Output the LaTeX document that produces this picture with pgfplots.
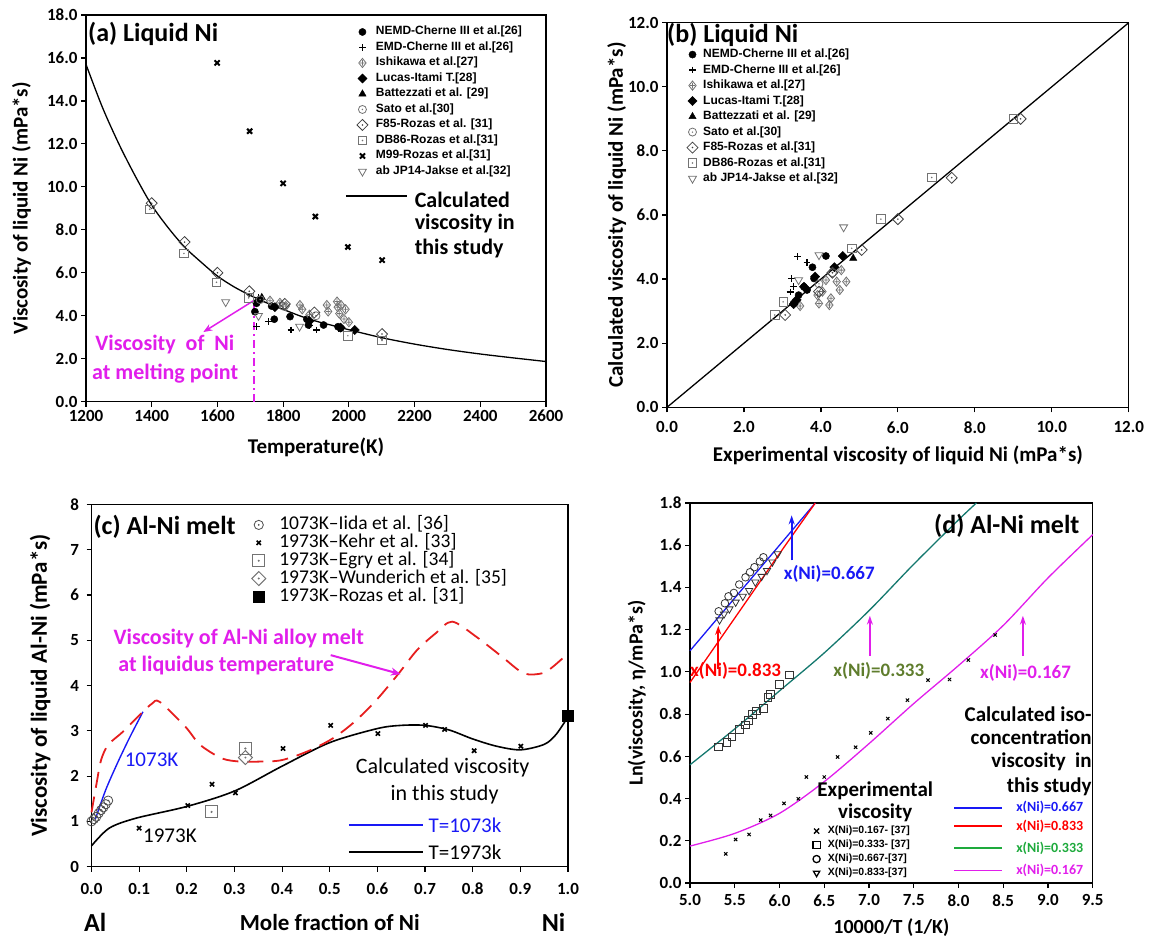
\documentclass[border=0pt]{standalone}
\usepackage{fontspec}
\setmainfont{Carlito}
\newfontfamily\arial{Liberation Sans}
\usepackage{pgfplots}
\pgfplotsset{compat=1.18}
\usetikzlibrary{arrows.meta}

\definecolor{mag}{RGB}{225,30,235}
\definecolor{dred}{RGB}{230,30,30}
\definecolor{bblue}{RGB}{25,25,245}
\definecolor{teal2}{RGB}{20,120,110}
\definecolor{olive2}{RGB}{95,125,45}
\definecolor{lgreen}{RGB}{30,170,60}
\definecolor{gry}{RGB}{115,115,115}

\pgfdeclareplotmark{odot}{%
 \pgfpathcircle{\pgfpointorigin}{\pgfplotmarksize}\pgfusepathqstroke
 \pgfpathcircle{\pgfpointorigin}{0.2\pgfplotmarksize}\pgfusepathqfill}
\pgfdeclareplotmark{sqdot}{%
 \pgfpathrectangle{\pgfpoint{-\pgfplotmarksize}{-\pgfplotmarksize}}{\pgfpoint{2\pgfplotmarksize}{2\pgfplotmarksize}}\pgfusepathqstroke
 \pgfpathcircle{\pgfpointorigin}{0.2\pgfplotmarksize}\pgfusepathqfill}
\pgfdeclareplotmark{rdiam*}{%
 \pgfpathmoveto{\pgfpoint{0pt}{\pgfplotmarksize}}\pgfpathlineto{\pgfpoint{\pgfplotmarksize}{0pt}}%
 \pgfpathlineto{\pgfpoint{0pt}{-\pgfplotmarksize}}\pgfpathlineto{\pgfpoint{-\pgfplotmarksize}{0pt}}\pgfpathclose
 \pgfusepathqfillstroke}
\pgfdeclareplotmark{rdiamdot}{%
 \pgfpathmoveto{\pgfpoint{0pt}{\pgfplotmarksize}}\pgfpathlineto{\pgfpoint{\pgfplotmarksize}{0pt}}%
 \pgfpathlineto{\pgfpoint{0pt}{-\pgfplotmarksize}}\pgfpathlineto{\pgfpoint{-\pgfplotmarksize}{0pt}}\pgfpathclose
 \pgfusepathqstroke
 \pgfpathcircle{\pgfpointorigin}{0.16\pgfplotmarksize}\pgfusepathqfill}
\pgfdeclareplotmark{rdiamplus}{%
 \pgfpathmoveto{\pgfpoint{0pt}{\pgfplotmarksize}}\pgfpathlineto{\pgfpoint{0.8\pgfplotmarksize}{0pt}}%
 \pgfpathlineto{\pgfpoint{0pt}{-\pgfplotmarksize}}\pgfpathlineto{\pgfpoint{-0.8\pgfplotmarksize}{0pt}}\pgfpathclose
 \pgfpathmoveto{\pgfpoint{-0.5\pgfplotmarksize}{0pt}}\pgfpathlineto{\pgfpoint{0.5\pgfplotmarksize}{0pt}}%
 \pgfpathmoveto{\pgfpoint{0pt}{-0.6\pgfplotmarksize}}\pgfpathlineto{\pgfpoint{0pt}{0.6\pgfplotmarksize}}%
 \pgfusepathqstroke}

\newcommand\fs[1]{\fontsize{#1}{#1}\selectfont}
\tikzset{tx/.style={inner sep=0pt}}

\pgfplotsset{
 base/.style={scale only axis, anchor=south west, clip=false,
   axis line style={line width=1.3pt},
   every tick/.style={black, line width=1.2pt},
   major tick length=5pt, tick align=outside,
   xtick pos=left, ytick pos=left,
   tick label style={font=\bfseries\fs{17}},
   /pgf/number format/assume math mode=true,
   legend cell align=left},
 oned/.style={/pgf/number format/.cd,fixed,fixed zerofill,precision=1},
 ptleg/.style={legend image code/.code={\draw[mark repeat=2,mark phase=2,##1] plot coordinates {(0pt,0pt)(#1,0pt)(2*#1,0pt)};}},
}

\begin{document}
\begin{tikzpicture}
\path[use as bounding box] (0,0) rectangle (1155pt,940pt);

% ---------------- (a) ----------------
\begin{axis}[base, at={(86pt,538.3pt)}, width=460pt, height=386.7pt,
 xmin=1200,xmax=2600,ymin=0,ymax=18,
 xtick={1200,1400,...,2600}, ytick={0,2,...,18},
 xticklabel style={/pgf/number format/1000 sep={}},
 yticklabel style={oned},
 xlabel={Temperature(K)}, ylabel={Viscosity of liquid Ni (mPa*s)},
 x label style={at={(axis description cs:0.5,-0.119)},anchor=center,font=\bfseries\fs{21}},
 y label style={at={(axis description cs:-0.14,0.5)},anchor=center,font=\bfseries\fs{21}},
 ptleg=5pt,
 legend style={draw=none,fill=none,at={(axis description cs:0.589,0.9716)},anchor=north west,
   inner sep=0pt,outer sep=0pt,row sep=3.5pt,column sep=7.9pt,font=\arial\bfseries\fs{12},
   nodes={inner sep=0pt,text height=9pt,text depth=3pt}},
]
\addplot[black,line width=1.3pt,smooth,forget plot] coordinates {(1200,15.7)(1250,13.7)(1300,12.0)(1350,10.5)(1400,9.15)(1450,8.1)(1500,7.2)(1550,6.5)(1600,5.85)(1650,5.35)(1700,4.95)(1750,4.6)(1800,4.3)(1850,4.0)(1900,3.75)(1950,3.55)(2000,3.35)(2100,2.98)(2200,2.68)(2300,2.43)(2400,2.22)(2500,2.04)(2600,1.87)};
\addplot[only marks,mark=*,mark size=3.6pt,black] coordinates {(1714,4.19)(1719,4.58)(1765,4.45)(1773,3.84)(1821,3.96)(1872,3.84)(1877,3.57)(1923,3.57)(1967,3.49)(1975,3.42)};
\addlegendentry{NEMD-Cherne III et al.[26]}
\addplot[only marks,mark=+,mark size=3.4pt,black,line width=1.2pt] coordinates {(1719,3.49)(1724,4.86)(1755,3.72)(1824,3.34)(1902,3.34)(1968,3.40)(1880,3.55)};
\addlegendentry{EMD-Cherne III et al.[26]}
\addplot[only marks,mark=rdiamplus,mark size=4.6pt,gry,line width=0.8pt] coordinates {(1760,4.7)(1790,4.6)(1808,4.45)(1851,4.5)(1858,4.3)(1880,4.05)(1933,4.5)(1937,4.2)(1964,4.66)(1966,4.4)(1971,4.1)(1976,4.5)(1985,3.85)(1990,4.3)(2000,3.7)};
\addlegendentry{Ishikawa et al.[27]}
\addplot[only marks,mark=rdiam*,mark size=4.6pt,black] coordinates {(1725,4.7)(1775,4.4)(1880,3.75)(1975,3.45)(2018,3.34)};
\addlegendentry{Lucas-Itami T.[28]}
\addplot[only marks,mark=triangle*,mark size=4.2pt,black] coordinates {(1735,4.85)};
\addlegendentry{Battezzati et al. [29]}
\addplot[only marks,mark=odot,mark size=4pt,gry,line width=0.8pt] coordinates {(1730,4.75)(1800,4.45)(1900,4.0)};
\addlegendentry{Sato et al.[30]}
\addplot[only marks,mark=rdiamdot,mark size=5.5pt,black!75,line width=0.8pt] coordinates {(1400,9.24)(1500,7.43)(1600,6.0)(1697,5.14)(1805,4.55)(1895,4.15)(2101,3.15)};
\addlegendentry{F85-Rozas et al. [31]}
\addplot[only marks,mark=sqdot,mark size=4.3pt,gry,line width=0.8pt] coordinates {(1394,8.96)(1498,6.9)(1597,5.56)(1695,4.83)(1997,3.07)(2101,2.85)};
\addlegendentry{DB86-Rozas et al.[31]}
\addplot[only marks,mark=x,mark size=3.6pt,black,line width=2pt] coordinates {(1599,15.77)(1698,12.59)(1800,10.16)(1898,8.62)(1997,7.2)(2101,6.59)};
\addlegendentry{M99-Rozas et al.[31]}
\addplot[only marks,mark=triangle,mark size=4.6pt,mark options={rotate=180},gry,line width=0.8pt] coordinates {(1625,4.64)(1725,4.0)(1850,3.5)};
\addlegendentry{ab JP14-Jakse et al.[32]}
\draw[mag,line width=2pt,dash pattern=on 8pt off 4pt on 2pt off 4pt] (axis cs:1712,0) -- (axis cs:1712,4.7);
\draw[mag,line width=1.5pt,-{Stealth[length=9pt,width=7pt]}] (axis cs:1712,4.72) -- (axis cs:1557,3.24);
\node[tx,mag,font=\bfseries\fs{22}] at (axis cs:1440,2.65) {Viscosity\ \ of\ \ Ni};
\node[tx,mag,font=\bfseries\fs{22}] at (axis cs:1441,1.32) {at melting point};
\node[tx,anchor=west,font=\bfseries\fs{26}] at (axis cs:1206,17.14) {(a) Liquid Ni};
\draw[black,line width=1.3pt] (axis cs:1991,9.58) -- (axis cs:2177,9.58);
\node[tx,anchor=west,font=\bfseries\fs{22}] at (axis cs:2200,9.38) {Calculated};
\node[tx,anchor=west,font=\bfseries\fs{22}] at (axis cs:2200,8.29) {viscosity in};
\node[tx,anchor=west,font=\bfseries\fs{22}] at (axis cs:2200,7.14) {this study};
\end{axis}

% ---------------- (b) ----------------
\begin{axis}[base, at={(667pt,532.7pt)}, width=461.7pt, height=384.6pt,
 xmin=0,xmax=12,ymin=0,ymax=12,
 xtick={0,2,...,12}, ytick={0,2,...,12},
 xticklabel style={yshift=-6pt,oned}, yticklabel style={oned},
 xlabel={Experimental viscosity of liquid Ni (mPa*s)}, ylabel={Calculated viscosity of liquid Ni (mPa*s)},
 x label style={at={(axis description cs:0.5,-0.124)},anchor=center,font=\bfseries\fs{21}},
 y label style={at={(axis description cs:-0.109,0.5)},anchor=center,font=\bfseries\fs{21}},
 ptleg=5pt,
 legend style={draw=none,fill=none,at={(axis description cs:0.0433,0.9327)},anchor=north west,
   inner sep=0pt,outer sep=0pt,row sep=3.5pt,column sep=5.2pt,font=\arial\bfseries\fs{12},
   nodes={inner sep=0pt,text height=9pt,text depth=3pt}},
]
\addplot[black,line width=1.3pt,forget plot] coordinates {(0,0)(12,12)};
\addplot[only marks,mark=*,mark size=3.6pt,black] coordinates {(4.13,4.72)(3.78,4.37)(3.82,4.02)(3.56,3.76)(3.42,3.50)(3.29,3.24)(3.64,3.66)};
\addlegendentry{NEMD-Cherne III et al.[26]}
\addplot[only marks,mark=+,mark size=3.4pt,black,line width=1.2pt] coordinates {(3.40,4.70)(3.64,4.51)(3.24,4.02)(3.29,3.76)(3.2,3.6)};
\addlegendentry{EMD-Cherne III et al.[26]}
\addplot[only marks,mark=rdiamplus,mark size=4.6pt,gry,line width=0.8pt] coordinates {(3.95,3.24)(4.22,3.19)(4.26,3.40)(4.49,3.66)(4.66,3.92)(4.41,3.92)(4.13,3.97)(4.53,4.28)(4.04,3.61)(3.91,3.50)(3.46,3.16)};
\addlegendentry{Ishikawa et al.[27]}
\addplot[only marks,mark=rdiam*,mark size=4.6pt,black] coordinates {(4.57,4.72)(4.35,4.37)(3.85,4.08)(3.56,3.76)(3.37,3.35)(3.29,3.22)};
\addlegendentry{Lucas-Itami T.[28]}
\addplot[only marks,mark=triangle*,mark size=4.2pt,black] coordinates {(4.84,4.65)};
\addlegendentry{Battezzati et al. [29]}
\addplot[only marks,mark=odot,mark size=4pt,gry,line width=0.8pt] coordinates {(3.95,3.85)(4.3,4.2)};
\addlegendentry{Sato et al.[30]}
\addplot[only marks,mark=rdiamdot,mark size=5.5pt,black!75,line width=0.8pt] coordinates {(9.19,9.0)(7.4,7.16)(6.0,5.87)(5.06,4.91)(3.07,2.88)(3.95,3.61)(4.3,4.2)};
\addlegendentry{F85-Rozas et al.[31]}
\addplot[only marks,mark=sqdot,mark size=4.3pt,gry,line width=0.8pt] coordinates {(9.0,9.0)(6.88,7.17)(5.56,5.87)(4.8,4.96)(3.02,3.29)(2.8,2.88)};
\addlegendentry{DB86-Rozas et al.[31]}
\addplot[only marks,mark=triangle,mark size=4.6pt,mark options={rotate=180},gry,line width=0.8pt] coordinates {(4.59,5.62)(3.95,4.75)(3.42,3.97)};
\addlegendentry{ab JP14-Jakse et al.[32]}
\node[tx,anchor=west,font=\bfseries\fs{26}] at (axis cs:0,11.62) {(b) Liquid Ni};
\end{axis}

% ---------------- (c) ----------------
\begin{axis}[base, at={(91.5pt,73.3pt)}, width=476.5pt, height=362.4pt,
 xmin=0,xmax=1,ymin=0,ymax=8,
 xtick={0,0.1,0.2,0.3,0.4,0.5,0.6,0.7,0.8,0.9,1.0}, ytick={0,1,2,3,4,5,6,7,8},
 xticklabel style={yshift=-8pt,oned}, yticklabel style={xshift=-4pt},
 xlabel={Mole fraction of Ni}, ylabel={Viscosity of liquid Al-Ni (mPa*s)},
 x label style={at={(axis description cs:0.5,-0.1526)},anchor=center,font=\bfseries\fs{23}},
 y label style={at={(axis description cs:-0.108,0.5)},anchor=center,font=\bfseries\fs{23}},
 ptleg=7pt,
 legend style={draw=none,fill=none,at={(axis description cs:0.3363,0.9666)},anchor=north west,
   inner sep=0pt,outer sep=0pt,row sep=0.9pt,column sep=13.5pt,font=\fs{19.5},
   nodes={inner sep=0pt,text height=13pt,text depth=4pt}},
]
\addplot[black,line width=1.6pt,smooth,forget plot] coordinates {(0,0.46)(0.037,0.85)(0.093,1.07)(0.2,1.33)(0.3,1.67)(0.4,2.22)(0.5,2.74)(0.6,3.05)(0.65,3.12)(0.7,3.12)(0.75,3.02)(0.8,2.82)(0.85,2.66)(0.9,2.58)(0.95,2.70)(0.975,2.92)(1.0,3.31)};
\addplot[bblue,line width=1.4pt,smooth,forget plot] coordinates {(0.008,1.05)(0.03,1.7)(0.055,2.3)(0.08,2.85)(0.108,3.42)};
\addplot[dred,line width=1.8pt,dash pattern=on 16pt off 9pt,smooth,forget plot] coordinates {(0.0,1.2)(0.01,1.8)(0.02,2.35)(0.035,2.69)(0.066,2.98)(0.104,3.38)(0.127,3.6)(0.143,3.64)(0.197,3.09)(0.228,2.69)(0.274,2.39)(0.313,2.32)(0.351,2.32)(0.398,2.35)(0.452,2.54)(0.506,2.83)(0.552,3.2)(0.598,3.68)(0.645,4.27)(0.683,4.78)(0.722,5.15)(0.757,5.41)(0.807,5.08)(0.861,4.64)(0.907,4.27)(0.946,4.27)(0.969,4.42)(1.0,4.71)};
\addplot[only marks,mark=odot,mark size=4.6pt,black!70,line width=0.8pt] coordinates {(0.0,1.0)(0.005,1.05)(0.01,1.1)(0.015,1.18)(0.02,1.25)(0.025,1.31)(0.03,1.38)(0.035,1.46)};
\addlegendentry{1073K–Iida et al. [36]}
\addplot[only marks,mark=x,mark size=3pt,black,line width=1.6pt] coordinates {(0.1,0.85)(0.202,1.35)(0.253,1.82)(0.302,1.63)(0.402,2.61)(0.502,3.12)(0.601,2.94)(0.701,3.12)(0.741,3.03)(0.803,2.56)(0.901,2.66)};
\addlegendentry{1973K–Kehr et al. [33]}
\addplot[only marks,mark=sqdot,mark size=6pt,gry,line width=0.9pt] coordinates {(0.252,1.21)(0.323,2.61)};
\addlegendentry{1973K–Egry et al. [34]}
\addplot[only marks,mark=rdiamdot,mark size=7pt,gry,line width=0.9pt] coordinates {(0.323,2.41)};
\addlegendentry{1973K–Wunderich et al. [35]}
\addplot[only marks,mark=square*,mark size=5.5pt,black] coordinates {(1.0,3.33)};
\addlegendentry{1973K–Rozas et al. [31]}
\node[tx,anchor=west,font=\bfseries\fs{26}] at (axis cs:0.004,7.5) {(c) Al-Ni melt};
\node[tx,mag,font=\bfseries\fs{22}] at (axis cs:0.309,5.04) {Viscosity of Al-Ni alloy melt};
\node[tx,mag,font=\bfseries\fs{22}] at (axis cs:0.283,4.45) {at liquidus temperature};
\draw[mag,line width=2pt,-{Stealth[length=10pt,width=8pt]}] (axis cs:0.502,4.67) -- (axis cs:0.649,4.25);
\node[tx,anchor=west,bblue,font=\fs{21}] at (axis cs:0.0695,2.35) {1073K};
\node[tx,anchor=west,font=\fs{21}] at (axis cs:0.108,0.68) {1973K};
\node[tx,font=\fs{22}] at (axis cs:0.737,2.19) {Calculated viscosity};
\node[tx,font=\fs{22}] at (axis cs:0.741,1.6) {in this study};
\draw[bblue,line width=1.5pt] (axis cs:0.54,0.92) -- (axis cs:0.695,0.92);
\node[tx,anchor=west,bblue,font=\fs{21}] at (axis cs:0.707,0.92) {T=1073k};
\draw[black,line width=1.5pt] (axis cs:0.54,0.32) -- (axis cs:0.695,0.32);
\node[tx,anchor=west,font=\fs{21}] at (axis cs:0.707,0.32) {T=1973k};
\node[tx,font=\bfseries\fs{26}] at (axis description cs:0.008,-0.1526) {Al};
\node[tx,font=\bfseries\fs{26}] at (axis description cs:0.9696,-0.1526) {Ni};
\end{axis}

% ---------------- (d) ----------------
\begin{axis}[base, at={(690pt,57pt)}, width=402.7pt, height=380pt,
 xmin=5,xmax=9.5,ymin=0,ymax=1.8,
 xtick={5,5.5,6,6.5,7,7.5,8,8.5,9,9.5}, ytick={0,0.2,0.4,0.6,0.8,1.0,1.2,1.4,1.6,1.8},
 xticklabel style={yshift=-3pt,oned}, yticklabel style={oned},
 xlabel={10000/T (1/K)}, ylabel={Ln(viscosity, η/mPa*s)},
 x label style={at={(axis description cs:0.5,-0.118)},anchor=center,font=\bfseries\fs{20}},
 y label style={at={(axis description cs:-0.132,0.5)},anchor=center,font=\bfseries\fs{20}},
 ptleg=5pt,
 legend image post style={mark size=3.6pt,black,line width=1.3pt},
 legend style={draw=none,fill=none,at={(axis description cs:0.3054,0.1505)},anchor=north west,
   inner sep=0pt,outer sep=0pt,row sep=3.5pt,column sep=7.6pt,font=\arial\bfseries\fs{10.5},
   nodes={inner sep=0pt,text height=8pt,text depth=2.5pt}},
]
\addplot[bblue,line width=1.3pt,smooth,forget plot] coordinates {(5,1.10)(5.5,1.35)(6.0,1.60)(6.4,1.80)};
\addplot[red,line width=1.3pt,smooth,forget plot] coordinates {(5,0.95)(5.5,1.255)(6.0,1.56)(6.4,1.80)};
\addplot[teal2,line width=1.3pt,smooth,forget plot] coordinates {(5,0.56)(5.5,0.73)(6.0,0.91)(6.5,1.09)(7.0,1.29)(7.5,1.51)(8.0,1.72)(8.2,1.80)};
\addplot[mag,line width=1.3pt,smooth,forget plot] coordinates {(5.0,0.175)(5.5,0.235)(6.0,0.33)(6.5,0.48)(7.0,0.66)(7.5,0.85)(8.0,1.03)(8.5,1.22)(9.0,1.445)(9.5,1.65)};
\addplot[only marks,mark=x,mark size=2.3pt,black,line width=1pt] coordinates {(5.40,0.138)(5.51,0.206)(5.66,0.23)(5.79,0.298)(5.90,0.32)(6.05,0.377)(6.21,0.399)(6.30,0.502)(6.50,0.502)(6.65,0.597)(6.85,0.643)(7.02,0.711)(7.21,0.779)(7.43,0.866)(7.66,0.961)(7.90,0.964)(8.11,1.056)(8.41,1.175)};
\addlegendentry{X(Ni)=0.167- [37]}
\addplot[only marks,mark=square,mark size=3.8pt,black!80,line width=0.8pt] coordinates {(5.32,0.644)(5.41,0.665)(5.47,0.692)(5.55,0.728)(5.62,0.749)(5.65,0.77)(5.70,0.80)(5.74,0.815)(5.82,0.828)(5.87,0.879)(5.90,0.894)(6.0,0.942)(6.11,0.985)};
\addlegendentry{X(Ni)=0.333- [37]}
\addplot[only marks,mark=o,mark size=3.8pt,black!80,line width=0.8pt] coordinates {(5.32,1.287)(5.39,1.325)(5.43,1.358)(5.49,1.374)(5.55,1.414)(5.62,1.448)(5.67,1.472)(5.72,1.496)(5.78,1.523)(5.82,1.543)};
\addlegendentry{X(Ni)=0.667-[37]}
\addplot[only marks,mark=triangle,mark size=4.2pt,mark options={rotate=180},black!80,line width=0.8pt] coordinates {(5.33,1.246)(5.38,1.274)(5.44,1.298)(5.51,1.33)(5.59,1.358)(5.66,1.385)(5.73,1.425)(5.80,1.452)(5.86,1.48)(5.92,1.52)(5.98,1.559)};
\addlegendentry{X(Ni)=0.833-[37]}
\node[tx,font=\bfseries\fs{26}] at (axis cs:8.54,1.694) {(d) Al-Ni melt};
\draw[bblue,line width=1.8pt,-{Stealth[length=9pt,width=6pt]}] (axis cs:6.136,1.528) -- (axis cs:6.136,1.741);
\draw[red,line width=1.8pt,-{Stealth[length=9pt,width=6pt]}] (axis cs:5.316,1.013) -- (axis cs:5.316,1.219);
\draw[mag,line width=1.8pt,-{Stealth[length=9pt,width=6pt]}] (axis cs:7.01,1.076) -- (axis cs:7.01,1.266);
\draw[mag,line width=1.8pt,-{Stealth[length=9pt,width=6pt]}] (axis cs:8.72,1.076) -- (axis cs:8.72,1.266);
\node[tx,anchor=west,bblue,font=\bfseries\fs{19}] at (axis cs:6.046,1.464) {x(Ni)=0.667};
\node[tx,anchor=west,red,font=\bfseries\fs{19}] at (axis cs:5.0,1.005) {x(Ni)=0.833};
\node[tx,anchor=west,olive2,font=\bfseries\fs{19}] at (axis cs:6.6,1.005) {x(Ni)=0.333};
\node[tx,anchor=west,mag,font=\bfseries\fs{19}] at (axis cs:8.24,0.997) {x(Ni)=0.167};
\node[tx,anchor=east,font=\bfseries\fs{21}] at (axis cs:9.49,0.80) {Calculated iso-};
\node[tx,anchor=east,font=\bfseries\fs{21}] at (axis cs:9.49,0.689) {concentration};
\node[tx,anchor=east,font=\bfseries\fs{21}] at (axis cs:9.49,0.575) {viscosity\ \ in};
\node[tx,anchor=east,font=\bfseries\fs{21}] at (axis cs:9.49,0.454) {this study};
\node[tx,font=\bfseries\fs{21}] at (axis cs:7.07,0.439) {Experimental};
\node[tx,font=\bfseries\fs{21}] at (axis cs:7.07,0.332) {viscosity};
\draw[bblue,line width=1.5pt] (axis cs:7.95,0.356) -- (axis cs:8.49,0.356);
\draw[red,line width=1.5pt] (axis cs:7.95,0.269) -- (axis cs:8.49,0.269);
\draw[lgreen,line width=1.5pt] (axis cs:7.95,0.166) -- (axis cs:8.49,0.166);
\draw[mag,line width=1.5pt] (axis cs:7.95,0.059) -- (axis cs:8.49,0.059);
\node[tx,bblue,font=\bfseries\fs{14}] at (axis cs:9.02,0.356) {x(Ni)=0.667};
\node[tx,red,font=\bfseries\fs{14}] at (axis cs:9.02,0.269) {x(Ni)=0.833};
\node[tx,lgreen,font=\bfseries\fs{14}] at (axis cs:9.02,0.166) {x(Ni)=0.333};
\node[tx,mag,font=\bfseries\fs{14}] at (axis cs:9.02,0.059) {x(Ni)=0.167};
\end{axis}
\end{tikzpicture}
\end{document}
